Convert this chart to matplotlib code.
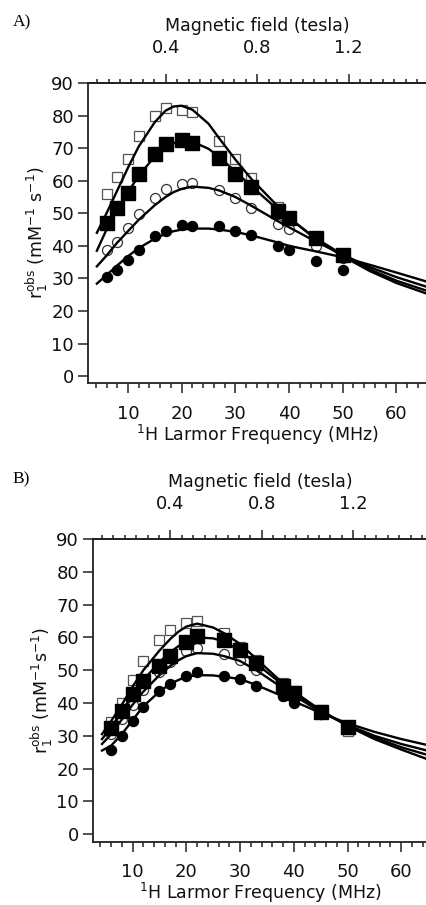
import numpy as np
import matplotlib
matplotlib.use("Agg")
import matplotlib.pyplot as plt
from matplotlib.ticker import MultipleLocator

# ---------------- data ----------------
freq = [6, 8, 10, 12, 15, 17, 20, 22, 27, 30, 33, 38, 40, 45, 50]

A_open_sq = [55.8, 61.0, 66.7, 73.6, 79.8, 82.3, 81.6, 81.1, 72.2, 66.7, 60.8, 52.0, 49.0, 42.5, 36.8]
A_fill_sq = [47.1, 51.5, 56.2, 62.0, 68.2, 71.2, 72.6, 71.7, 66.9, 62.1, 58.1, 50.7, 48.6, 42.3, 37.1]
A_open_ci = [38.8, 41.3, 45.4, 49.8, 54.8, 57.5, 59.1, 59.4, 57.3, 54.7, 51.7, 46.6, 45.1, 40.1, 36.3]
A_fill_ci = [30.4, 32.5, 35.6, 38.8, 42.9, 44.7, 46.4, 46.2, 46.1, 44.7, 43.2, 40.1, 38.8, 35.5, 32.7]

B_open_sq = [34.3, 40.0, 47.1, 52.7, 59.1, 62.4, 64.4, 64.9, 61.2, 57.0, 53.0, 46.0, 43.5, 37.8, 31.5]
B_fill_sq = [32.3, 37.6, 42.7, 46.6, 51.2, 54.4, 58.5, 60.3, 59.3, 56.3, 52.2, 45.3, 43.0, 37.4, 32.8]
B_open_ci = [30.5, 35.0, 39.4, 44.0, 49.5, 52.5, 56.0, 56.8, 54.8, 53.2, 50.0, 42.0, 41.0, 36.5, 32.0]
B_fill_ci = [25.7, 30.0, 34.6, 38.9, 43.5, 45.8, 48.1, 49.3, 48.1, 47.3, 45.3, 42.0, 40.0, 36.5, 32.5]

# fitted curves
fitA_freq = [4.2, 6, 8, 10, 12, 15, 17, 18.5, 20, 22, 25, 27, 30, 33, 38, 40, 45, 50, 55, 60, 65.7]
fitA_open_sq = [44.0, 50.0, 57.0, 64.0, 70.5, 78.0, 81.5, 82.8, 83.0, 81.8, 77.5, 73.0, 66.5, 60.5, 52.0, 48.7, 42.0, 36.8, 32.3, 28.6, 25.3]
fitA_fill_sq = [38.5, 45.0, 51.0, 56.5, 61.5, 67.5, 70.3, 71.5, 72.3, 72.0, 69.8, 67.3, 62.8, 58.3, 51.0, 48.5, 42.3, 37.3, 32.8, 29.3, 26.2]
fitA_open_ci = [33.7, 37.0, 41.0, 44.5, 48.0, 52.5, 55.0, 56.5, 57.5, 58.2, 57.8, 57.0, 55.0, 52.3, 47.5, 45.7, 41.3, 37.3, 33.5, 30.4, 27.4]
fitA_fill_ci = [28.4, 31.0, 34.0, 36.8, 39.3, 42.2, 43.7, 44.5, 45.0, 45.3, 45.3, 45.0, 44.3, 43.2, 41.0, 40.0, 38.3, 36.5, 34.2, 31.8, 29.0]

fitB_freq = [4.3, 6, 8, 10, 12, 15, 17, 18.5, 20, 22, 25, 27, 30, 33, 38, 40, 45, 50, 55, 60, 64.8]
fitB_open_sq = [30.5, 34.5, 39.5, 45.0, 50.0, 56.0, 59.5, 61.7, 63.3, 64.2, 63.0, 61.3, 58.0, 53.5, 46.0, 43.5, 37.8, 33.0, 29.0, 25.8, 22.9]
fitB_fill_sq = [29.0, 32.5, 37.5, 42.5, 47.0, 52.5, 55.5, 57.3, 58.8, 60.0, 59.7, 58.7, 56.0, 52.0, 45.5, 43.0, 37.6, 33.2, 29.5, 26.5, 24.2]
fitB_open_ci = [27.5, 30.5, 35.0, 39.5, 43.5, 48.5, 51.3, 53.0, 54.3, 55.2, 55.0, 54.3, 52.8, 50.0, 44.5, 42.3, 37.3, 33.3, 30.0, 27.5, 25.5]
fitB_fill_ci = [25.5, 27.0, 30.5, 34.8, 39.0, 43.5, 45.8, 47.0, 48.0, 48.5, 48.4, 48.0, 47.3, 45.5, 42.0, 40.5, 37.0, 33.8, 31.2, 29.0, 27.2]

GAMMA = 42.577  # MHz per tesla

yticks = [0, 10, 20, 30, 40, 50, 60, 70, 80, 90]
xticks = [10, 20, 30, 40, 50, 60]
tticks = [0.4, 0.8, 1.2]

# ---------------- figure ----------------
plt.rcParams['font.family'] = ['DejaVu Sans']
plt.rcParams['mathtext.fontset'] = 'dejavusans'
fig = plt.figure(figsize=(4.27, 9.05), dpi=100)

SP = '#222222'
TC = '#111111'
FS_TICK = 13
FS_LAB = 12.5


def panel(rect, xlim, ylim, data, fits, fitfreq, ylabel, letter, letter_y):
    ax = fig.add_axes(rect)
    o_sq, f_sq, o_ci, f_ci = data
    ax.plot(freq, o_sq, ls='none', marker='s', ms=7.8, mfc='none', mec='#555555', mew=0.9, zorder=2)
    ax.plot(freq, o_ci, ls='none', marker='o', ms=7.2, mfc='none', mec='#333333', mew=0.9, zorder=2)
    ax.plot(freq, f_ci, ls='none', marker='o', ms=7.2, mfc='black', mec='black', zorder=3)
    ax.plot(freq, f_sq, ls='none', marker='s', ms=9.4, mfc='black', mec='black', zorder=3)
    for f in fits:
        ax.plot(fitfreq, f, color='black', lw=1.7, zorder=4, solid_joinstyle='round')
    ax.set_xlim(*xlim)
    ax.set_ylim(*ylim)
    ax.set_xticks(xticks)
    ax.xaxis.set_minor_locator(MultipleLocator(2))
    ax.set_yticks(yticks)
    ax.tick_params(axis='y', direction='out', length=7, width=1.1, pad=3, labelsize=FS_TICK, color=SP, labelcolor=TC)
    ax.tick_params(axis='x', which='major', direction='out', length=7.3, width=1.1, pad=8, labelsize=FS_TICK, color=SP, labelcolor=TC)
    ax.tick_params(axis='x', which='minor', direction='out', length=3.6, width=1.1, color=SP)
    ax.spines['right'].set_visible(False)
    for s in ('left', 'bottom', 'top'):
        ax.spines[s].set_linewidth(1.3)
        ax.spines[s].set_color(SP)
    ax.set_xlabel(r'$^{1}$H Larmor Frequency (MHz)', fontsize=FS_LAB, labelpad=0, color=TC)
    ax.set_ylabel(ylabel, fontsize=FS_LAB, labelpad=1, color=TC)

    # top axis: magnetic field in tesla (B = f / gamma)
    top = ax.twiny()
    top.set_xlim(xlim[0] / GAMMA, xlim[1] / GAMMA)
    top.set_xticks(tticks)
    top.set_xticklabels(['0.4', '0.8', '1.2'])
    top.xaxis.set_minor_locator(MultipleLocator(0.05))
    top.tick_params(axis='x', which='major', direction='out', length=6.8, width=1.1, pad=12, labelsize=FS_TICK, color=SP, labelcolor=TC)
    top.tick_params(axis='x', which='minor', direction='out', length=3.1, width=1.1, color=SP)
    for s in ('left', 'right', 'bottom'):
        top.spines[s].set_visible(False)
    top.spines['top'].set_linewidth(1.3)
    top.spines['top'].set_color(SP)
    top.set_xlabel('Magnetic field (tesla)', fontsize=FS_LAB, labelpad=6, color=TC)

    fig.text(0.03, letter_y, letter, family='Liberation Serif', fontsize=12.5, va='center', ha='left')
    return ax


panel([88 / 427, 1 - 383.3 / 905, 1 - 88 / 427, (383.3 - 83) / 905], (2.55, 65.7), (-2.2, 90),
      (A_open_sq, A_fill_sq, A_open_ci, A_fill_ci),
      (fitA_open_sq, fitA_fill_sq, fitA_open_ci, fitA_fill_ci), fitA_freq,
      r'$\mathrm{r}_1^{\mathrm{obs}}$ (mM$^{-1}$ s$^{-1}$)', 'A)', 1 - 22 / 905)

panel([93 / 427, 1 - 841.7 / 905, 1 - 93 / 427, (841.7 - 539) / 905], (2.62, 64.8), (-2.3, 90),
      (B_open_sq, B_fill_sq, B_open_ci, B_fill_ci),
      (fitB_open_sq, fitB_fill_sq, fitB_open_ci, fitB_fill_ci), fitB_freq,
      r'$\mathrm{r}_1^{\mathrm{obs}}$ (mM$^{-1}$s$^{-1}$)', 'B)', 1 - 479 / 905)

fig.savefig('out.png', dpi=100)
